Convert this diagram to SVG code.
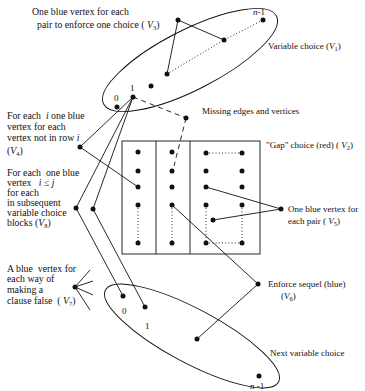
<svg xmlns="http://www.w3.org/2000/svg" width="365" height="391" viewBox="0 0 365 391">
<style>
text{font-family:"Liberation Serif","Times New Roman",serif;font-size:9px;fill:#111}
text.b{font-size:9.8px}
.e{fill:none;stroke:#111;stroke-width:0.9}
.l{stroke:#111;stroke-width:0.9;fill:none}
.d{stroke:#111;stroke-width:0.9;stroke-dasharray:1,2.2;fill:none}
.da{stroke:#111;stroke-width:0.9;stroke-dasharray:5,4;fill:none}
.n{fill:#111}
.it{font-style:italic}
.sub{font-size:6.5px}
</style>
<rect width="365" height="391" fill="#fff"/>
<g id="connectors">
<line class="l" x1="178" y1="20" x2="167" y2="74"/>
<line class="l" x1="178" y1="20" x2="224" y2="40"/>
<polyline class="d" points="167,74 224,40 263,20"/>
<line class="da" x1="133" y1="97" x2="186" y2="118"/>
<line class="da" x1="186" y1="118" x2="174" y2="166"/>
<line class="l" x1="133" y1="97" x2="80" y2="147"/>
<line class="l" x1="80" y1="147" x2="138" y2="187"/>
<line class="l" x1="133" y1="97" x2="76" y2="208"/>
<line class="l" x1="133" y1="97" x2="93" y2="209"/>
<line class="l" x1="76" y1="208" x2="123" y2="296"/>
<line class="l" x1="93" y1="209" x2="145" y2="307"/>
<line class="l" x1="172" y1="205" x2="258" y2="284"/>
<line class="l" x1="197" y1="339" x2="258" y2="284"/>
<line class="l" x1="206" y1="187" x2="281" y2="209"/>
<line class="l" x1="213" y1="220" x2="281" y2="209"/>
<line class="d" x1="138" y1="205" x2="138" y2="243"/>
<line class="d" x1="172" y1="205" x2="172" y2="243"/>
<line class="d" x1="206" y1="153" x2="242" y2="153"/>
<line class="d" x1="206" y1="205" x2="206" y2="243"/>
<line class="d" x1="242" y1="205" x2="242" y2="243"/>
<line class="d" x1="206" y1="243" x2="242" y2="243"/>
<line class="l" x1="75" y1="287" x2="90" y2="270"/>
<line class="l" x1="75" y1="287" x2="93" y2="281"/>
<line class="l" x1="75" y1="287" x2="93" y2="295"/>
<line class="l" x1="75" y1="287" x2="90" y2="310"/>
</g>
<g id="variable-choice">
<ellipse class="e" cx="190" cy="60" rx="97" ry="30" transform="rotate(-27 190 60)"/>
<circle class="n" cx="117" cy="107" r="2.5"/>
<circle class="n" cx="133" cy="97" r="2.5"/>
<circle class="n" cx="151" cy="86" r="2.5"/>
<circle class="n" cx="167" cy="74" r="2.5"/>
<circle class="n" cx="224" cy="40" r="2.5"/>
<circle class="n" cx="263" cy="20" r="2.5"/>
<text x="114" y="101">0</text>
<text x="130" y="91">1</text>
<text x="253" y="15"><tspan class="it">n</tspan>-1</text>
<text x="268" y="49">Variable choice (<tspan class="it">V</tspan><tspan class="sub" dy="2">1</tspan><tspan dy="-2">)</tspan></text>
</g>
<g id="enforce-choice">
<circle class="n" cx="178" cy="20" r="2.5"/>
<text class="b" x="32" y="15">One blue vertex for each</text>
<text class="b" x="37" y="28" xml:space="preserve">pair to enforce one choice ( <tspan class="it">V</tspan><tspan class="sub" dy="2">3</tspan><tspan dy="-2">)</tspan></text>
</g>
<g id="missing">
<circle class="n" cx="186" cy="118" r="2.5"/>
<text x="202" y="114">Missing edges and vertices</text>
</g>
<g id="gap-choice">
<rect class="e" x="122" y="141" width="138" height="113"/>
<line class="l" x1="156" y1="141" x2="156" y2="254"/>
<line class="l" x1="190" y1="141" x2="190" y2="254"/>
<circle class="n" cx="138" cy="152" r="2.5"/>
<circle class="n" cx="138" cy="171" r="2.5"/>
<circle class="n" cx="138" cy="187" r="2.5"/>
<circle class="n" cx="138" cy="205" r="2.5"/>
<circle class="n" cx="138" cy="243" r="2.5"/>
<circle class="n" cx="172" cy="152" r="2.5"/>
<circle class="n" cx="172" cy="171" r="2.5"/>
<circle class="n" cx="172" cy="187" r="2.5"/>
<circle class="n" cx="172" cy="205" r="2.5"/>
<circle class="n" cx="172" cy="243" r="2.5"/>
<circle class="n" cx="206" cy="153" r="2.5"/>
<circle class="n" cx="206" cy="171" r="2.5"/>
<circle class="n" cx="206" cy="187" r="2.5"/>
<circle class="n" cx="206" cy="205" r="2.5"/>
<circle class="n" cx="206" cy="243" r="2.5"/>
<circle class="n" cx="242" cy="153" r="2.5"/>
<circle class="n" cx="242" cy="171" r="2.5"/>
<circle class="n" cx="242" cy="187" r="2.5"/>
<circle class="n" cx="242" cy="205" r="2.5"/>
<circle class="n" cx="242" cy="243" r="2.5"/>
<circle class="n" cx="213" cy="220" r="2.5"/>
<text x="266" y="148" xml:space="preserve">"Gap" choice (red) ( <tspan class="it">V</tspan><tspan class="sub" dy="2">2</tspan><tspan dy="-2">)</tspan></text>
</g>
<g id="pair-vertex">
<circle class="n" cx="281" cy="209" r="2.5"/>
<text x="288" y="212">One blue vertex for</text>
<text x="288" y="224" xml:space="preserve">each pair ( <tspan class="it">V</tspan><tspan class="sub" dy="2">5</tspan><tspan dy="-2">)</tspan></text>
</g>
<g id="not-in-row">
<circle class="n" cx="80" cy="147" r="2.5"/>
<text class="b" x="7" y="119" xml:space="preserve">For each  <tspan class="it">i</tspan> one blue</text>
<text class="b" x="7" y="130">vertex for each</text>
<text class="b" x="7" y="141" xml:space="preserve">vertex not in row <tspan class="it">i</tspan></text>
<text class="b" x="7" y="154">(<tspan class="it">V</tspan><tspan class="sub" dy="2">4</tspan><tspan dy="-2">)</tspan></text>
</g>
<g id="subsequent">
<circle class="n" cx="76" cy="208" r="2.5"/>
<circle class="n" cx="93" cy="209" r="2.5"/>
<text class="b" x="7" y="176" xml:space="preserve">For each  one blue</text>
<text class="b" x="7" y="186" xml:space="preserve">vertex   <tspan class="it">i</tspan> ≤ <tspan class="it">j</tspan></text>
<text class="b" x="7" y="196">for each</text>
<text class="b" x="7" y="206">in subsequent</text>
<text class="b" x="7" y="216">variable choice</text>
<text class="b" x="7" y="226">blocks (<tspan class="it">V</tspan><tspan class="sub" dy="2">8</tspan><tspan dy="-2">)</tspan></text>
</g>
<g id="clause-false">
<circle class="n" cx="75" cy="287" r="2.5"/>
<text class="b" x="7" y="272" xml:space="preserve">A blue  vertex for</text>
<text class="b" x="7" y="282">each way of</text>
<text class="b" x="7" y="293">making a</text>
<text class="b" x="7" y="304" xml:space="preserve">clause false  ( <tspan class="it">V</tspan><tspan class="sub" dy="2">7</tspan><tspan dy="-2">)</tspan></text>
</g>
<g id="enforce-sequel">
<circle class="n" cx="258" cy="284" r="2.5"/>
<text x="268" y="287">Enforce sequel (blue)</text>
<text x="281" y="299">(<tspan class="it">V</tspan><tspan class="sub" dy="2">6</tspan><tspan dy="-2">)</tspan></text>
</g>
<g id="next-variable-choice">
<ellipse class="e" cx="192" cy="336" rx="98" ry="27" transform="rotate(28 192 336)"/>
<circle class="n" cx="123" cy="296" r="2.5"/>
<circle class="n" cx="145" cy="307" r="2.5"/>
<circle class="n" cx="197" cy="339" r="2.5"/>
<circle class="n" cx="259" cy="376" r="2.5"/>
<text x="122" y="314">0</text>
<text x="145" y="329">1</text>
<text x="250" y="389"><tspan class="it">n</tspan> -1</text>
<text x="270" y="356">Next variable choice</text>
</g>
</svg>
